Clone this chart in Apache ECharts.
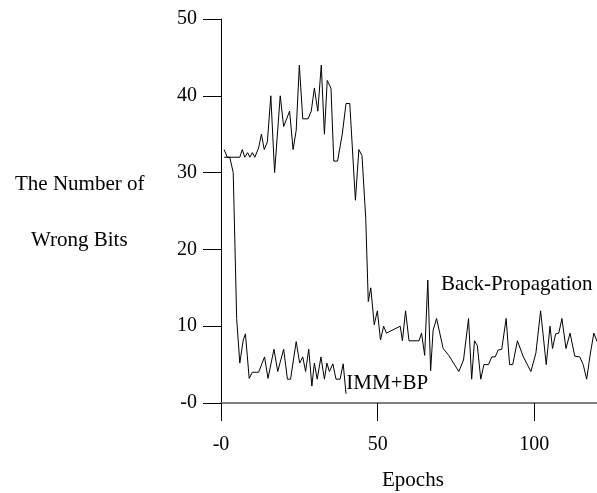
<!DOCTYPE html>
<html>
<head>
<meta charset="utf-8">
<script src="https://cdn.jsdelivr.net/npm/echarts@6/dist/echarts.min.js"></script>
<style>
  html, body { margin: 0; padding: 0; background: #fff; }
  #chart { width: 597px; height: 493px; }
</style>
</head>
<body>
<div id="chart"></div>
<script>
const FONT = "'Liberation Serif', 'Times New Roman', serif";

const bpEpochs = [1, 2, 6, 6.8, 7.6, 8.5, 9.2, 10, 10.8, 12, 12.9, 13.8, 14.8, 15.9, 17.1, 18.9, 20, 21.9, 23, 24, 25, 26.1, 27.8, 28.8, 29.8, 30.9, 32, 33, 33.9, 35.1, 36, 37.2, 38.7, 39.9, 41.1, 42.9, 44, 45, 46.2, 47, 47.8, 48.9, 49.9, 50.9, 51.9, 52.8, 57.2, 57.9, 58.9, 60, 63.2, 64, 65, 66, 66.9, 67.7, 68.8, 70.9, 72.7, 74.2, 75.9, 77.4, 79, 80, 80.9, 81.8, 82.9, 83.9, 85.4, 86.4, 87.5, 88.5, 89.6, 91, 92.1, 93.1, 94.6, 96.5, 98.9, 100.5, 102, 103.8, 105, 105.8, 106.8, 107.8, 108.8, 110.1, 111.4, 112.9, 114.5, 115.6, 116.7, 117.9, 119, 120];
const bpValues = [33, 32, 32, 33, 32, 32.6, 32, 32.6, 32, 33.2, 35, 33, 34, 40, 30, 40, 36, 38, 33, 35.5, 44, 37, 37, 38, 41, 38, 44, 35, 42, 41, 31.5, 31.5, 35, 39, 39, 26.4, 33, 32.2, 24, 13.2, 15, 10.2, 12, 8.2, 10, 9.1, 10, 8.1, 12, 8.1, 8.1, 9.1, 6.2, 16, 4.2, 9.5, 11, 7.1, 6.2, 5.2, 4.1, 5.6, 11, 3.1, 8.1, 7.5, 3.1, 5, 5, 6, 6, 6.9, 7, 11, 5, 5, 8.1, 6, 4.1, 6.5, 12, 5, 10, 7.1, 9, 9.1, 11, 7.1, 9.1, 6.1, 6, 5, 3.1, 6.5, 9.1, 8];

const immEpochs = [1, 2.8, 3.9, 5, 6, 7.1, 7.8, 9, 10, 12, 13.9, 15, 16.9, 18.1, 20, 21.2, 22.2, 24, 25.1, 26.1, 27, 28, 29, 29.8, 30.7, 31.9, 33, 33.8, 34.6, 35.7, 36.7, 38, 39, 39.9];
const immValues = [32, 32, 30, 11, 5.2, 8.2, 9, 3.2, 4, 4, 6, 3.2, 7, 4.1, 7, 3.1, 3.1, 8, 5.2, 6, 4.1, 7, 2.2, 5.2, 3.1, 6, 3.1, 5.2, 4.1, 5.1, 3.1, 3.1, 5.1, 1.2];

const xTickLabels = { 0: "-0", 50: "50", 100: "100" };
const yTickLabels = { 0: "-0", 10: "10", 20: "20", 30: "30", 40: "40", 50: "50" };

const seriesNames = ["Back-Propagation", "IMM+BP"];
const labelAnchors = [[70.2, 15.4], [40.0, 2.6]];

const chart = echarts.init(document.getElementById("chart"));

function pairs(xs, ys) {
  return xs.map((x, i) => [x, ys[i]]);
}

function lineSeries(name, data, anchor) {
  return {
    name: name,
    type: "line",
    data: data,
    showSymbol: false,
    symbol: "none",
    animation: false,
    lineStyle: { color: "#000", width: 1 },
    markPoint: {
      symbol: "circle",
      symbolSize: 0,
      animation: false,
      data: [{ coord: anchor, name: name }],
      label: {
        show: true,
        position: "right",
        distance: 0,
        formatter: name,
        color: "#000",
        fontFamily: FONT,
        fontSize: 21
      }
    }
  };
}

chart.setOption({
  animation: false,
  grid: { left: 221, top: 19, width: 378, height: 384, containLabel: false },
  xAxis: [
    {
      type: "value",
      min: 0,
      max: 120,
      interval: 50,
      axisLine: { onZero: false, lineStyle: { color: "#808080", width: 2 } },
      axisTick: { length: 18, lineStyle: { color: "#000", width: 1 } },
      axisLabel: {
        margin: 32,
        showMaxLabel: false,
        color: "#000",
        fontFamily: FONT,
        fontSize: 20,
        formatter: (v) => xTickLabels[v] ?? ""
      },
      splitLine: { show: false }
    },
    {
      type: "value",
      position: "top",
      min: 0,
      max: 120,
      axisLine: { show: true, lineStyle: { color: "#808080", width: 2 } },
      axisTick: { show: false },
      axisLabel: { show: false },
      splitLine: { show: false }
    }
  ],
  yAxis: {
    type: "value",
    min: 0,
    max: 50,
    interval: 10,
    axisLine: { show: true, onZero: false, lineStyle: { color: "#000", width: 1 } },
    axisTick: { show: true, length: 18, lineStyle: { color: "#000", width: 1 } },
    axisLabel: {
      margin: 24,
      color: "#000",
      fontFamily: FONT,
      fontSize: 20,
      formatter: (v) => yTickLabels[v] ?? ""
    },
    splitLine: { show: false }
  },
  graphic: [
    {
      type: "text",
      left: 15,
      top: 174,
      style: { text: "The Number of", font: "21px " + FONT, fill: "#000" }
    },
    {
      type: "text",
      left: 31,
      top: 230,
      style: { text: "Wrong Bits", font: "21px " + FONT, fill: "#000" }
    },
    {
      type: "text",
      left: 382,
      top: 470,
      style: { text: "Epochs", font: "21px " + FONT, fill: "#000" }
    }
  ],
  series: [
    lineSeries(seriesNames[0], pairs(bpEpochs, bpValues), labelAnchors[0]),
    lineSeries(seriesNames[1], pairs(immEpochs, immValues), labelAnchors[1])
  ]
});

window.addEventListener("resize", () => chart.resize());
</script>
</body>
</html>
